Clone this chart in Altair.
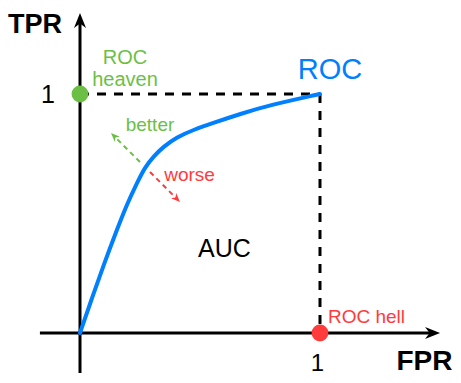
import altair as alt
import pandas as pd

# ROC curve (FPR, TPR)
roc_fpr = [0, 0.05, 0.1, 0.15, 0.1958, 0.2375, 0.2708, 0.3083, 0.3458, 0.4042, 0.4708, 0.5542, 0.6667, 0.7917, 1.0]
roc_tpr = [0, 0.1464, 0.2887, 0.4226, 0.5397, 0.6276, 0.6946, 0.7406, 0.7782, 0.8201, 0.8494, 0.8787, 0.9163, 0.9540, 1.0]

# special points
pt_labels = ["ROC heaven", "ROC hell"]
pt_x = [0, 1]
pt_y = [1, 0]
pt_colors = ["#6CBF45", "#FF3B3B"]

# axis segments (with arrow tips)
axis_x1 = [-0.167, 0]
axis_y1 = [0, -0.167]
axis_x2 = [1.47, 0]
axis_y2 = [0, 1.31]
arrow_x = [1.469, 0]
arrow_y = [0, 1.3075]
arrow_angle = [0, 270]

# dashed guide lines
guide_x1 = [0, 1]
guide_y1 = [1, 1]
guide_x2 = [1, 1]
guide_y2 = [1, 0]

# better / worse arrows
bw_label = ["better", "worse"]
bw_tail_x = [0.25, 0.2917]
bw_tail_y = [0.7155, 0.6736]
bw_head_x = [0.1425, 0.4033]
bw_head_y = [0.8234, 0.5615]
bw_angle = [225, 45]
bw_color = ["#6CBF45", "#FF3B3B"]

# text annotations
txt = ["TPR", "FPR", "1", "1", "ROC", "heaven", "ROC", "better", "worse", "AUC", "ROC hell"]
txt_x = [-0.1875, 1.4354, -0.1333, 0.9896, 0.1875, 0.1875, 1.0417, 0.2917, 0.4563, 0.6021, 1.0333]
txt_y = [1.2552, -0.1548, 0.9623, -0.1590, 1.1255, 1.0335, 1.0628, 0.8452, 0.636, 0.318, 0.0418]
txt_size = [27, 28, 25, 24, 20, 20, 29, 19, 19, 25, 19]
txt_weight = ["bold", "bold", "normal", "normal", "normal", "normal", "normal", "normal", "normal", "normal", "normal"]
txt_align = ["center"] * 10 + ["left"]
txt_color = ["#000000", "#000000", "#000000", "#000000", "#6CBF45", "#6CBF45", "#007FFF", "#6CBF45", "#FF3B3B", "#000000", "#FF3B3B"]

X_DOM = [-0.3, 1.5542]
Y_DOM = [-0.1757, 1.3598]
xs = alt.Scale(domain=X_DOM, nice=False, zero=False)
ys = alt.Scale(domain=Y_DOM, nice=False, zero=False)
ARROW = "M1,0 L-1,-0.8 L-0.4,0 L-1,0.8 Z"
FONT = "Liberation Sans"


def X(f):
    return alt.X(f"{f}:Q", scale=xs, axis=None)


def Y(f):
    return alt.Y(f"{f}:Q", scale=ys, axis=None)


guides = alt.Chart(pd.DataFrame(dict(x=guide_x1, y=guide_y1, x2=guide_x2, y2=guide_y2))).mark_rule(
    color="black", strokeWidth=3, strokeDash=[9, 8]
).encode(x=X("x"), y=Y("y"), x2="x2:Q", y2="y2:Q")

axes = alt.Chart(pd.DataFrame(dict(x=axis_x1, y=axis_y1, x2=axis_x2, y2=axis_y2))).mark_rule(
    color="black", strokeWidth=3
).encode(x=X("x"), y=Y("y"), x2="x2:Q", y2="y2:Q")

axis_heads = alt.Chart(pd.DataFrame(dict(x=arrow_x, y=arrow_y, a=arrow_angle))).mark_point(
    shape=ARROW, filled=True, color="black", opacity=1, size=225, strokeWidth=0
).encode(x=X("x"), y=Y("y"), angle=alt.Angle("a:Q", scale=None))

bw_df = pd.DataFrame(dict(label=bw_label, x=bw_tail_x, y=bw_tail_y, x2=bw_head_x, y2=bw_head_y,
                          a=bw_angle, c=bw_color))
bw_lines = alt.Chart(bw_df).mark_rule(strokeWidth=2, strokeDash=[5, 4]).encode(
    x=X("x"), y=Y("y"), x2="x2:Q", y2="y2:Q", color=alt.Color("c:N", scale=None)
)
bw_heads = alt.Chart(bw_df).mark_point(shape=ARROW, filled=True, opacity=1, size=81, strokeWidth=0).encode(
    x=X("x2"), y=Y("y2"), angle=alt.Angle("a:Q", scale=None), color=alt.Color("c:N", scale=None)
)

curve = alt.Chart(pd.DataFrame(dict(fpr=roc_fpr, tpr=roc_tpr))).mark_line(
    color="#007FFF", strokeWidth=4, interpolate="basis", strokeCap="round"
).encode(x=X("fpr"), y=Y("tpr"), order="fpr:Q")

dots = alt.Chart(pd.DataFrame(dict(label=pt_labels, x=pt_x, y=pt_y, c=pt_colors))).mark_circle(
    size=283, opacity=1
).encode(x=X("x"), y=Y("y"), color=alt.Color("c:N", scale=None))

tdf = pd.DataFrame(dict(t=txt, x=txt_x, y=txt_y, s=txt_size, w=txt_weight, al=txt_align, c=txt_color))
texts = []
for (s, w, al), sub in tdf.groupby(["s", "w", "al"]):
    texts.append(
        alt.Chart(sub).mark_text(fontSize=float(s), fontWeight=w, align=al, baseline="alphabetic", font=FONT)
        .encode(x=X("x"), y=Y("y"), text="t:N", color=alt.Color("c:N", scale=None))
    )

chart = alt.layer(guides, axes, axis_heads, bw_lines, bw_heads, curve, dots, *texts).properties(
    width=445, height=367, autosize=alt.AutoSizeParams(type="none"), padding=0
).configure_view(stroke=None)

chart.save("out.html", embed_options={"renderer": "svg", "actions": False})
